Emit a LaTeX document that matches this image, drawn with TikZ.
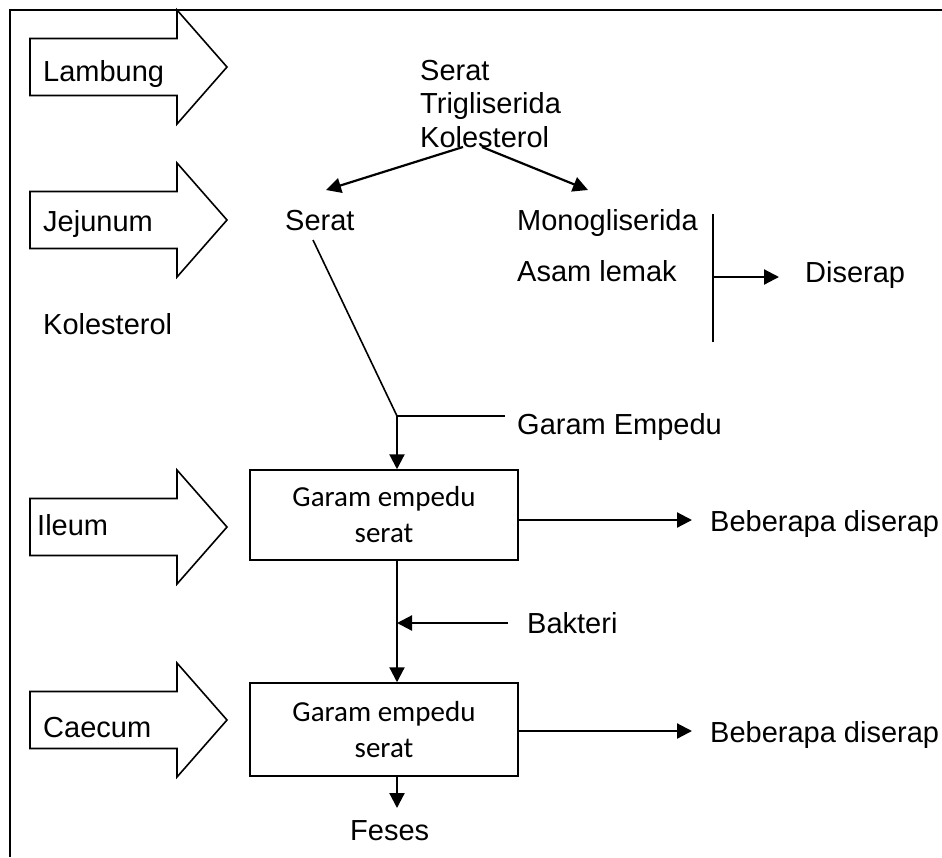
\documentclass[tikz,border=0pt]{standalone}
\usepackage{fontspec}
\setmainfont{Liberation Sans}
\newfontfamily\boxfont{Carlito}
\usetikzlibrary{arrows.meta}
\begin{document}
\begin{tikzpicture}[x=1pt,y=-1pt,
  lbl/.style={inner sep=0pt,anchor=base west,font=\fontsize{29}{33}\selectfont},
  stage/.style={draw,line width=1.5pt,minimum width=268pt,inner sep=0pt,align=center,font=\boxfont\fontsize{29}{36}\selectfont},
  arr/.style={line width=2.2pt,-{Triangle[length=15pt,width=15pt]}},
  thin/.style={line width=1.6pt},
  blockarr/.pic={\draw[line width=1.6pt,line join=miter]
     (30,-28.5) -- (177,-28.5) -- (177,-57) -- (227,0) -- (177,57) -- (177,28.5) -- (30,28.5) -- cycle;}
]
\useasboundingbox (0,0) rectangle (942,857);
\fill[white] (0,0) rectangle (942,857);
% frame
\draw[line width=2.4pt] (10,857) -- (10,10) -- (942,10);

% block arrows
\pic at (0,67) {blockarr};
\pic at (0,220) {blockarr};
\pic at (0,527) {blockarr};
\pic at (0,720) {blockarr};

\node[lbl] (lambung) at (43,81) {Lambung};
\node[lbl] (jejunum) at (43,231) {Jejunum};
\node[lbl] (kolL) at (43,334) {Kolesterol};
\node[lbl] (ileum) at (37,535) {Ileum};
\node[lbl] (caecum) at (43,737) {Caecum};

% top source
\node[lbl] (src1) at (420,80) {Serat};
\node[lbl] (src2) at (420,113) {Trigliserida};
\node[lbl] (src3) at (420,147) {Kolesterol};

\node[lbl] (serat) at (285,230) {Serat};
\node[lbl] (mono) at (517,230) {Monogliserida};
\node[lbl] (asam) at (517,281) {Asam lemak};
\node[lbl] (diserap) at (805,282) {Diserap};

\coordinate (splitL) at (463,147);
\coordinate (splitR) at (482,147);
\coordinate (tipL) at (326,190);
\coordinate (tipR) at (588,190);
\draw[arr] (splitL) -- (tipL);
\draw[arr] (splitR) -- (tipR);

% absorption bar
\coordinate (barT) at (713,214);
\coordinate (barB) at (713,342);
\coordinate (barM) at (713,277);
\coordinate (disT) at (779,277);
\draw[thin] (barT) -- (barB);
\draw[arr] (barM) -- (disT);

% serat path
\coordinate (seratS) at (313,240);
\coordinate (J) at (397,416);
\coordinate (geE) at (505,416);
\node[lbl] (garam) at (517,434) {Garam Empedu};
\draw[thin] (seratS) -- (J);
\draw[thin] (J) -- (geE);

\node[stage,minimum height=90pt] (box1) at (384,515) {Garam empedu\\serat};
\node[stage,minimum height=93pt] (box2) at (384,729.5) {Garam empedu\\serat};

\draw[arr] (J) -- (J |- box1.north);

\node[lbl] (beb1) at (710,531) {Beberapa diserap};
\node[lbl] (beb2) at (710,742) {Beberapa diserap};
\coordinate (b1t) at (692,520);
\coordinate (b2t) at (692,731);
\draw[arr] (box1.east |- b1t) -- (b1t);
\draw[arr] (box2.east |- b2t) -- (b2t);

\coordinate (mid1) at (397,560);
\draw[arr] (mid1) -- (mid1 |- box2.north);

\node[lbl] (bakteri) at (527,633) {Bakteri};
\coordinate (bakS) at (508,623);
\draw[arr] (bakS) -- (bakS -| J);

\node[lbl] (feses) at (350,840) {Feses};
\coordinate (fesT) at (397,808);
\draw[arr] (fesT |- box2.south) -- (fesT);
\end{tikzpicture}
\end{document}
